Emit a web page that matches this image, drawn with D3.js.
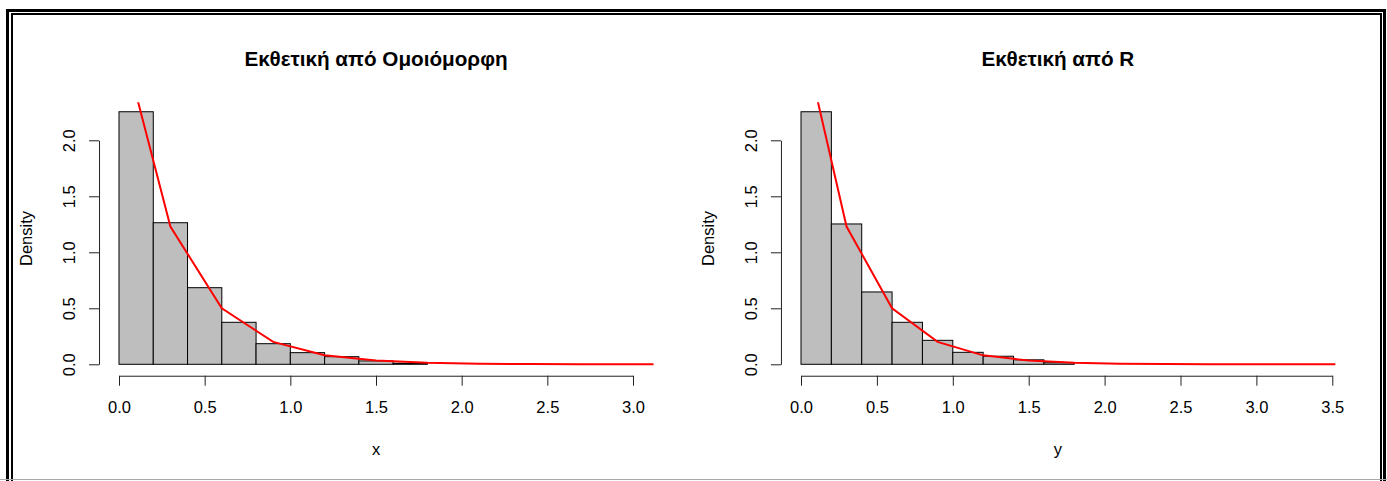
<!DOCTYPE html>
<html>
    <head>
        <meta charset="utf-8">
        <title>Εκθετική κατανομή</title>
        <script src="https://d3js.org/d3.v7.min.js"></script>
        <style>
            body { margin: 0; background: #fff; }
            text { font-family: "Liberation Sans", Arial, sans-serif; fill: #000; }
        </style>
    </head>
    <body>
        <div id="chart"></div>
        <script>
            // histogram bins (left edges, width 0.2)
            const binStarts = [0.0, 0.2, 0.4, 0.6, 0.8, 1.0, 1.2, 1.4, 1.6];
            const binWidth = 0.2;
            // densities
            const densityUniform = [2.255, 1.264, 0.684, 0.375, 0.184, 0.104, 0.068, 0.030, 0.009];
            const densityR = [2.255, 1.253, 0.646, 0.375, 0.214, 0.107, 0.072, 0.040, 0.014];
            // red curve points
            const curveX = [0.0, 0.3, 0.6, 0.9, 1.2, 1.5, 1.8, 2.1, 2.4, 2.7, 3.0, 3.3, 3.6];
            const curveY = [3.0, 1.23, 0.50, 0.20, 0.08, 0.033, 0.013, 0.005, 0.002, 0.001, 0.0, 0.0, 0.0];
            // ticks and labels
            const yTicks = [0, 0.5, 1.0, 1.5, 2.0];
            const xTicksUniform = [0, 0.5, 1.0, 1.5, 2.0, 2.5, 3.0];
            const xTicksR = [0, 0.5, 1.0, 1.5, 2.0, 2.5, 3.0, 3.5];
            const titles = ["Εκθετική από Ομοιόμορφη", "Εκθετική από R"];
            const xLabels = ["x", "y"];
            const yLabel = "Density";

            const W = 1387, H = 481;
            const svg = d3.select("#chart").append("svg")
                .attr("width", W).attr("height", H);

            //Frame round the picture
            svg.append("rect").attr("x", 7.5).attr("y", 10.5).attr("width", 1377).attr("height", 490)
                .attr("fill", "none").attr("stroke", "#000").attr("stroke-width", 3);
            svg.append("rect").attr("x", 12).attr("y", 14).attr("width", 1369).attr("height", 480)
                .attr("fill", "none").attr("stroke", "#000").attr("stroke-width", 2);
            svg.append("line").attr("x1", 0).attr("x2", W).attr("y1", 479.5).attr("y2", 479.5)
                .attr("stroke", "#aaa").attr("stroke-width", 1);

            const panels = [
                { id: "p1", xDomain: [0, 3], xRange: [119, 633], usr: [-0.12, 3.12],
                  ticks: xTicksUniform, dens: densityUniform, title: titles[0], xlab: xLabels[0] },
                { id: "p2", xDomain: [0, 3.5], xRange: [801, 1332.3], usr: [-0.136, 3.52],
                  ticks: xTicksR, dens: densityR, title: titles[1], xlab: xLabels[1] }
            ];

            const y = d3.scaleLinear().domain([0, 2]).range([364.3, 140.3]);

            panels.forEach(function (p) {
                const x = d3.scaleLinear().domain(p.xDomain).range(p.xRange);
                const left = x(p.usr[0]), right = x(p.usr[1]);
                const top = y(2.34), bottom = y(-0.094);
                const cx = (left + right) / 2;

                svg.append("clipPath").attr("id", "clip-" + p.id)
                    .append("rect")
                    .attr("x", left).attr("y", top)
                    .attr("width", right - left).attr("height", bottom - top);

                const g = svg.append("g");

                //Bars
                g.append("g").selectAll("rect")
                    .data(binStarts.map((b, i) => ({ x0: b, x1: b + binWidth, d: p.dens[i] })))
                    .enter().append("rect")
                    .attr("x", d => x(d.x0))
                    .attr("y", d => y(d.d))
                    .attr("width", d => x(d.x1) - x(d.x0))
                    .attr("height", d => y(0) - y(d.d))
                    .attr("fill", "#bebebe")
                    .attr("stroke", "#000")
                    .attr("stroke-width", 1);

                //Red curve
                const line = d3.line().x(d => x(d[0])).y(d => y(d[1]));
                g.append("path")
                    .datum(curveX.map((v, i) => [v, curveY[i]]))
                    .attr("clip-path", "url(#clip-" + p.id + ")")
                    .attr("d", line)
                    .attr("fill", "none")
                    .attr("stroke", "#ff0000")
                    .attr("stroke-width", 2);

                //X axis
                const xa = g.append("g")
                    .attr("transform", "translate(0," + (bottom + 0.9) + ")")
                    .call(d3.axisBottom(x).tickValues(p.ticks).tickSize(10).tickSizeOuter(0)
                        .tickFormat(d3.format(".1f")));
                xa.selectAll("text").attr("y", 37).attr("dy", 0)
                    .style("font-size", "16.5px").style("font-family", "Liberation Sans, Arial");
                xa.selectAll("path, line").attr("stroke", "#222");

                //Y axis
                const ya = g.append("g")
                    .attr("transform", "translate(" + (left + 0.6) + ",0)")
                    .call(d3.axisLeft(y).tickValues(yTicks).tickSize(10).tickSizeOuter(0)
                        .tickFormat(d3.format(".1f")));
                ya.selectAll("text")
                    .attr("x", null).attr("dy", null)
                    .attr("text-anchor", "middle")
                    .attr("transform", "translate(-24,0) rotate(-90)")
                    .style("font-size", "16.5px").style("font-family", "Liberation Sans, Arial");
                ya.selectAll("path, line").attr("stroke", "#222");

                //Title
                g.append("text")
                    .attr("x", cx).attr("y", 66)
                    .attr("text-anchor", "middle")
                    .style("font-size", "20.7px").style("font-weight", "bold")
                    .text(p.title);

                //Axis labels
                g.append("text")
                    .attr("x", cx).attr("y", 455)
                    .attr("text-anchor", "middle")
                    .style("font-size", "16.5px")
                    .text(p.xlab);
                g.append("text")
                    .attr("transform", "translate(" + (left - 66) + "," + ((top + bottom) / 2) + ") rotate(-90)")
                    .attr("text-anchor", "middle")
                    .style("font-size", "16.5px")
                    .text(yLabel);
            });
        </script>
    </body>
</html>
